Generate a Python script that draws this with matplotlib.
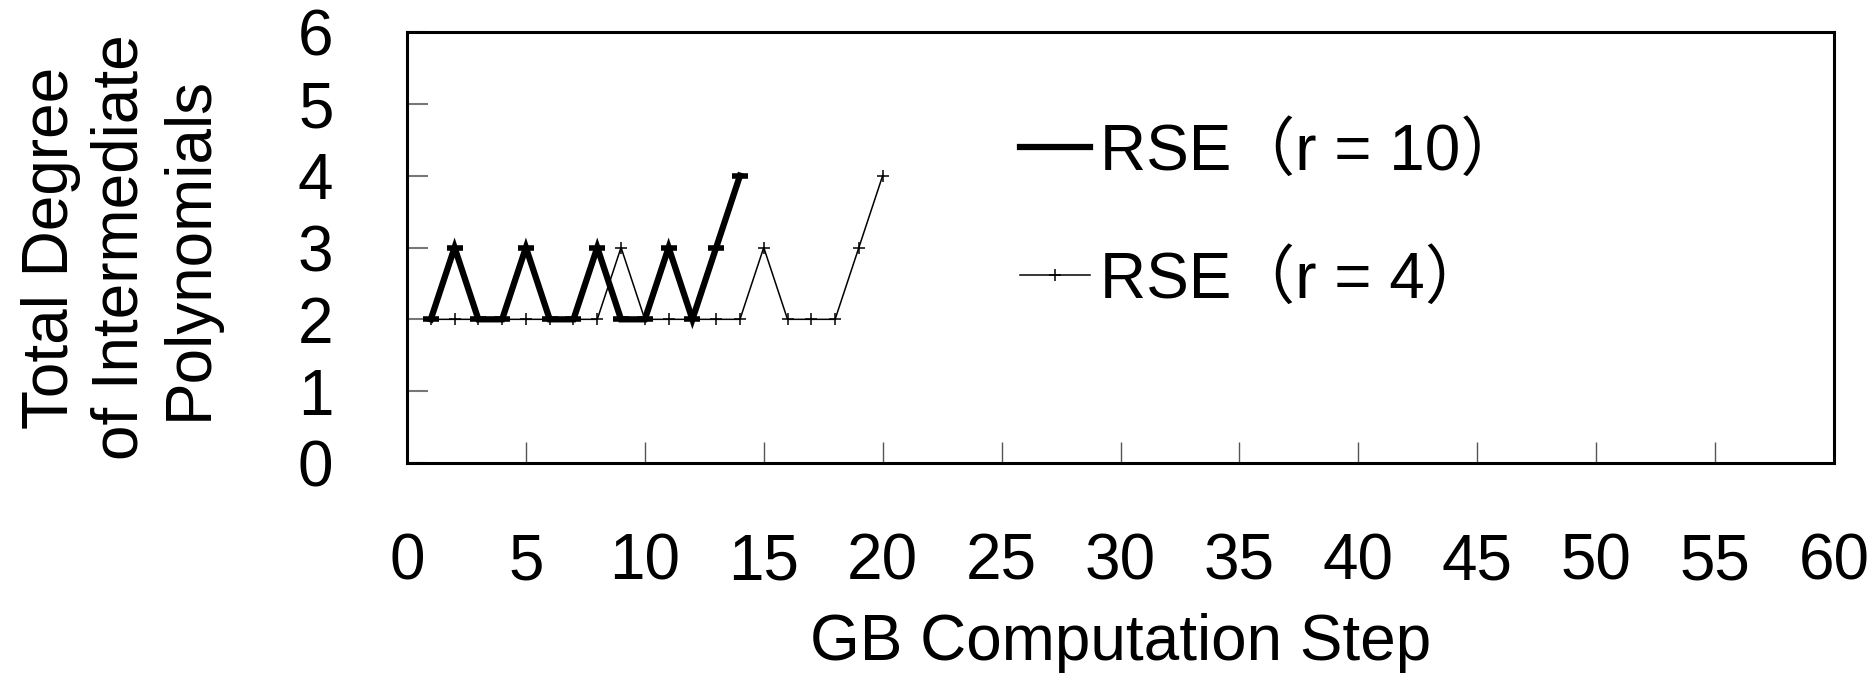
import matplotlib
matplotlib.use("Agg")
import matplotlib.pyplot as plt

# Data
steps_r10 = [1, 2, 3, 4, 5, 6, 7, 8, 9, 10, 11, 12, 13, 14]
deg_r10 = [2, 3, 2, 2, 3, 2, 2, 3, 2, 2, 3, 2, 3, 4]

steps_r4 = [1, 2, 3, 4, 5, 6, 7, 8, 9, 10, 11, 12, 13, 14, 15, 16, 17, 18, 19, 20]
deg_r4 = [2, 2, 2, 2, 2, 2, 2, 2, 3, 2, 2, 2, 2, 2, 3, 2, 2, 2, 3, 4]

xticks = list(range(0, 61, 5))
yticks = list(range(0, 7))

plt.rcParams['font.family'] = ['Liberation Sans', 'Noto Sans CJK JP', 'DejaVu Sans']
FS = 46

fig = plt.figure(figsize=(18.73, 6.76), dpi=100)
ax = fig.add_axes([407 / 1873, 1 - 463 / 676, (1834 - 407) / 1873, (463 - 32) / 676])

ax.plot(steps_r10, deg_r10, color="black", lw=4.5, marker="_", ms=11, mew=4,
        label="RSE（r = 10）", solid_joinstyle="miter")
ax.plot(steps_r4, deg_r4, color="black", lw=1.1, marker="+", ms=9, mew=1.1,
        label="RSE（r = 4）")

ax.set_xlim(0, 60)
ax.set_ylim(0, 6)
ax.set_xticks(xticks)
ax.set_yticks(yticks)

for s in ax.spines.values():
    s.set_linewidth(2.2)

ax.tick_params(axis="y", direction="in", length=15, width=1.5, color="#777777",
               labelsize=FS, pad=53)
ax.tick_params(axis="x", direction="in", length=15, width=1, color="#555555",
               labelsize=FS, pad=50)

ax.set_xlabel("GB Computation Step", fontsize=FS)
ax.xaxis.set_label_coords(0.5, (463 - 643) / 431)
ax.xaxis.label.set_va("center")

ax.set_ylabel("Total Degree\nof Intermediate\nPolynomials", fontsize=FS,
              linespacing=1.2, multialignment="center")
ax.yaxis.set_label_coords((120 - 407) / 1427, 0.5)
ax.yaxis.label.set_va("center")

ax.legend(loc="upper left", bbox_to_anchor=(1020 / 1873, 1 - 122 / 676),
          bbox_transform=fig.transFigure, frameon=False, fontsize=FS,
          handlelength=1.1, handletextpad=0.15, labelspacing=1.05,
          borderpad=0, borderaxespad=0)

fig.savefig("out.png", dpi=100)
